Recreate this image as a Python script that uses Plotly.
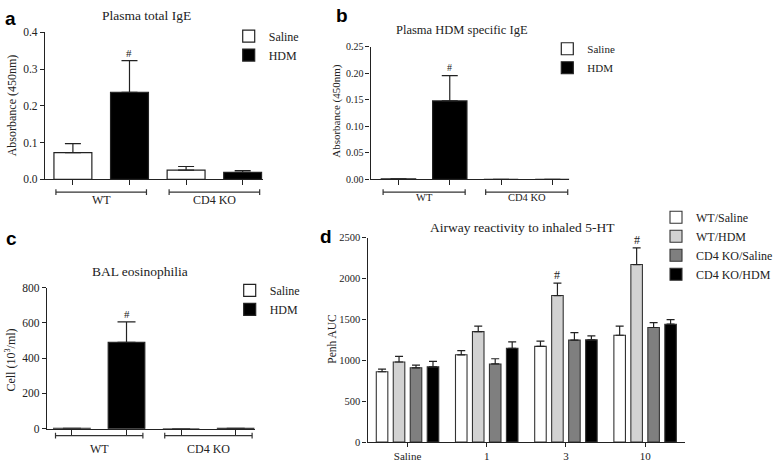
import plotly.graph_objects as go

W, H = 778, 464

# ---------------- data ----------------
groups = ["WT", "CD4 KO"]
treatments = ["Saline", "HDM"]

# a: Plasma total IgE (absorbance 450nm)
a_saline = [0.073, 0.025]
a_saline_err = [0.024, 0.010]
a_hdm = [0.237, 0.019]
a_hdm_err = [0.086, 0.005]

# b: Plasma HDM specific IgE (absorbance 450nm)
b_saline = [0.001, 0.0]
b_saline_err = [0.0, 0.0]
b_hdm = [0.148, 0.0]
b_hdm_err = [0.048, 0.0]

# c: BAL eosinophilia (10^3 cells/ml)
c_saline = [3, 0]
c_saline_err = [0, 0]
c_hdm = [490, 3]
c_hdm_err = [115, 0]

# d: Airway reactivity to inhaled 5-HT (Penh AUC)
doses = ["Saline", "1", "3", "10"]
d_series = ["WT/Saline", "WT/HDM", "CD4 KO/Saline", "CD4 KO/HDM"]
d_wt_saline = [860, 1067, 1170, 1306]
d_wt_saline_err = [32, 52, 64, 111]
d_wt_hdm = [979, 1350, 1791, 2170]
d_wt_hdm_err = [68, 67, 152, 203]
d_ko_saline = [908, 955, 1246, 1401]
d_ko_saline_err = [32, 64, 92, 60]
d_ko_hdm = [920, 1146, 1250, 1441]
d_ko_hdm_err = [67, 80, 48, 56]

# ---------------- helpers ----------------
SERIF = "Liberation Serif, Times New Roman, serif"
SANS = "Liberation Sans, Arial, sans-serif"
INK = "#222222"


def X(px):
    return px / W


def Y(py):
    return 1 - py / H


fig = go.Figure()

panels = {
    "a": dict(xa="x", ya="y", leg="legend", xd=(45, 263), yd=(27, 178),
              xr=[-0.494, 3.353], yr=[0, 0.4], dtick=0.1, fmt=".1f", tfs=11.5),
    "b": dict(xa="x2", ya="y2", leg="legend2", xd=(371, 570), yd=(42, 178),
              xr=[-0.545, 3.33], yr=[0, 0.25], dtick=0.05, fmt=".2f", tfs=10),
    "c": dict(xa="x3", ya="y3", leg="legend3", xd=(47, 255), yd=(289, 434),
              xr=[-0.457, 3.347], yr=[0, 800], dtick=200, fmt="d", tfs=11.5),
    "d": dict(xa="x4", ya="y4", leg="legend4", xd=(368, 686), yd=(237.7, 447.7),
              xr=[-0.505, 3.505], yr=[0, 2500], dtick=500, fmt="d", tfs=10.5),
}


def err(arr, w):
    return dict(type="data", array=arr, arrayminus=[0] * len(arr), symmetric=False,
                color=INK, thickness=1.2, width=w)


bar_w = 0.67
abc = {
    "a": (a_saline, a_saline_err, a_hdm, a_hdm_err, 8),
    "b": (b_saline, b_saline_err, b_hdm, b_hdm_err, 8),
    "c": (c_saline, c_saline_err, c_hdm, c_hdm_err, 9),
}
for name, (sv, se, hv, he, cw) in abc.items():
    p = panels[name]
    xs_sal = [2 * i for i in range(len(groups))]
    xs_hdm = [2 * i + 1 for i in range(len(groups))]
    fig.add_trace(go.Bar(
        x=xs_sal, y=sv, name=treatments[0], width=bar_w, offset=-bar_w / 2,
        marker=dict(color="white", line=dict(color=INK, width=1.2)),
        error_y=err(se, cw), xaxis=p["xa"], yaxis=p["ya"], legend=p["leg"]))
    fig.add_trace(go.Bar(
        x=xs_hdm, y=hv, name=treatments[1], width=bar_w, offset=-bar_w / 2,
        marker=dict(color="black", line=dict(color=INK, width=1.2)),
        error_y=err(he, cw), xaxis=p["xa"], yaxis=p["ya"], legend=p["leg"]))

d_vals = [(d_wt_saline, d_wt_saline_err, "white"),
          (d_wt_hdm, d_wt_hdm_err, "#d2d2d2"),
          (d_ko_saline, d_ko_saline_err, "#7f7f7f"),
          (d_ko_hdm, d_ko_hdm_err, "black")]
xd = list(range(len(doses)))
for nm, (v, e, col) in zip(d_series, d_vals):
    fig.add_trace(go.Bar(
        x=xd, y=v, name=nm,
        marker=dict(color=col, line=dict(color="#333333", width=1.1)),
        error_y=err(e, 4), xaxis="x4", yaxis="y4", legend="legend4"))

# ---------------- axes ----------------
layout_axes = {}
for i, (name, p) in enumerate(panels.items()):
    sfx = "" if i == 0 else str(i + 1)
    xd0, xd1 = p["xd"]
    yt, yb = p["yd"]
    common = dict(showline=True, linecolor=INK, linewidth=1.2, ticks="outside",
                  tickcolor=INK, tickwidth=1.2, showgrid=False, zeroline=False,
                  fixedrange=True)
    xax = dict(common, domain=[X(xd0), X(xd1)], range=p["xr"], anchor="y" + sfx,
               ticklen=5, tickvals=[0, 1, 2, 3])
    if name == "d":
        xax.update(ticktext=doses, tickfont=dict(family=SERIF, size=11, color=INK),
                   ticklen=4)
    else:
        xax.update(showticklabels=False)
    yax = dict(common, domain=[Y(yb), Y(yt)], range=p["yr"], anchor="x" + sfx,
               ticklen=4, dtick=p["dtick"], tick0=0, tickformat=p["fmt"],
               tickfont=dict(family=SERIF, size=p["tfs"], color=INK))
    layout_axes["xaxis" + sfx] = xax
    layout_axes["yaxis" + sfx] = yax

fig.update_layout(**layout_axes)

# ---------------- brackets & group labels (a-c) ----------------
shapes = []
annotations = []
bracket_y = {"a": 191, "b": 191, "c": 441}
label_y = {"a": 199, "b": 196.5, "c": 455}
label_fs = {"a": 12, "b": 10.5, "c": 12}
for name in ["a", "b", "c"]:
    p = panels[name]
    ax = p["xa"]
    yb = Y(bracket_y[name])
    cap = 3 / H
    for g, gname in enumerate(groups):
        x0, x1 = 2 * g - 0.3, 2 * g + 1.3
        ln = dict(color="#333333", width=1.2)
        shapes.append(dict(type="line", xref=ax, yref="paper", x0=x0, x1=x1, y0=yb, y1=yb, line=ln))
        for xe in (x0, x1):
            shapes.append(dict(type="line", xref=ax, yref="paper", x0=xe, x1=xe,
                               y0=yb - cap, y1=yb + cap, line=ln))
        annotations.append(dict(text=gname, xref=ax, yref="paper", x=2 * g + 0.5,
                                y=Y(label_y[name]), showarrow=False, xanchor="center",
                                yanchor="middle",
                                font=dict(family=SERIF, size=label_fs[name], color=INK)))

# ---------------- significance marks ----------------
marks = [("x", "y", 1, a_hdm[0] + a_hdm_err[0], 11),
         ("x2", "y2", 1, b_hdm[0] + b_hdm_err[0], 10),
         ("x3", "y3", 1, c_hdm[0] + c_hdm_err[0], 11),
         ("x4", "y4", 2 - 0.1072, d_wt_hdm[2] + d_wt_hdm_err[2], 12),
         ("x4", "y4", 3 - 0.1072, d_wt_hdm[3] + d_wt_hdm_err[3], 12)]
for xa, ya, xv, yv, fs in marks:
    annotations.append(dict(text="#", xref=xa, yref=ya, x=xv, y=yv, yshift=8,
                            showarrow=False, xanchor="center", yanchor="middle",
                            font=dict(family=SERIF, size=fs, color=INK)))

# ---------------- titles ----------------
titles = [("Plasma total IgE", 147, 10, 13.5),
          ("Plasma HDM specific IgE", 463, 25, 12.5),
          ("BAL eosinophilia", 140, 273, 13.5),
          ("Airway reactivity to inhaled 5-HT", 523, 227, 13.5)]
for t, xp, yp, fs in titles:
    annotations.append(dict(text=t, xref="paper", yref="paper", x=X(xp), y=Y(yp),
                            showarrow=False, xanchor="center", yanchor="middle",
                            font=dict(family=SERIF, size=fs, color=INK)))

ytitles = [("Absorbance (450nm)", 12, 102, 12),
           ("Absorbance (450nm)", 337, 108, 11),
           ("Cell (10<sup>3</sup>/ml)", 11, 363, 12),
           ("Penh AUC", 333, 342, 11.5)]
for t, xp, yp, fs in ytitles:
    annotations.append(dict(text=t, xref="paper", yref="paper", x=X(xp), y=Y(yp),
                            showarrow=False, xanchor="center", yanchor="middle",
                            textangle=-90,
                            font=dict(family=SERIF, size=fs, color=INK)))

letters = [("a", 3, 13), ("b", 334, 10), ("c", 4, 239), ("d", 318, 237)]
for t, xp, yp in letters:
    annotations.append(dict(text="<b>%s</b>" % t, xref="paper", yref="paper",
                            x=X(xp), y=Y(yp), showarrow=False, xanchor="left",
                            yanchor="middle",
                            font=dict(family=SANS, size=19, color="black")))

# ---------------- legends ----------------
def legend(xp, yp, fs):
    return dict(x=X(xp), y=Y(yp), xanchor="left", yanchor="top",
                bgcolor="rgba(0,0,0,0)", borderwidth=0, itemclick=False,
                itemdoubleclick=False, tracegroupgap=0,
                font=dict(family=SERIF, size=fs, color=INK))


fig.update_layout(
    width=W, height=H, margin=dict(l=0, r=0, t=0, b=0),
    paper_bgcolor="white", plot_bgcolor="white",
    barmode="group", bargap=0.1425, bargroupgap=0.32,
    showlegend=True,
    legend=legend(229, 16, 12),
    legend2=legend(548, 29, 11),
    legend3=legend(230, 277, 12),
    legend4=legend(657, 202, 12),
    shapes=shapes, annotations=annotations,
)

# let the figure fill the window exactly (drop the browser's default body margin)
fig.write_html("out.html", config={"displayModeBar": False},
               post_script="document.body.style.margin='0';")
